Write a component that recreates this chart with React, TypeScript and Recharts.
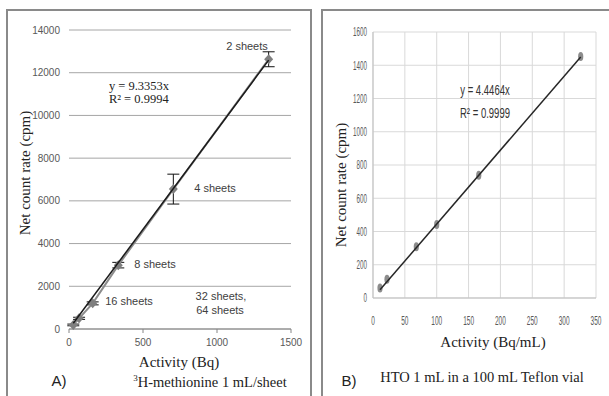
import React from "react";
import { ScatterChart, Scatter, XAxis, YAxis, CartesianGrid, ErrorBar } from "recharts";

// Panel A: 3H-methionine, 1 mL per sheet
const sheetsA = ["64 sheets", "32 sheets", "16 sheets", "8 sheets", "4 sheets", "2 sheets"];
const activityA = [29, 68, 160, 333, 705, 1349];
const countA = [190, 500, 1200, 2990, 6550, 12630];
const errA = [40, 50, 70, 130, 700, 350];
const fitXA = [29, 1349];
const fitYA = [270, 12590];
const xTicksA = [0, 500, 1000, 1500];
const yTicksA = [0, 2000, 4000, 6000, 8000, 10000, 12000, 14000];

// Panel B: HTO in a Teflon vial
const activityB = [11, 22, 68, 100, 166, 326];
const countB = [60, 113, 308, 442, 738, 1452];
const fitXB = [11, 326];
const fitYB = [49, 1450];
const xTicksB = [0, 50, 100, 150, 200, 250, 300, 350];
const yTicksB = [0, 200, 400, 600, 800, 1000, 1200, 1400, 1600];

const pointsA = activityA.map((x, i) => ({ x, y: countA[i], err: errA[i], name: sheetsA[i] }));
const trendA = fitXA.map((x, i) => ({ x, y: fitYA[i] }));
const pointsB = activityB.map((x, i) => ({ x, y: countB[i] }));
const trendB = fitXB.map((x, i) => ({ x, y: fitYB[i] }));

const sans = "'Liberation Sans', Arial, sans-serif";
const serif = "'Liberation Serif', 'Times New Roman', serif";

const Diamond = (p: any) => (
  <path
    d={`M${p.cx},${p.cy - 5}L${p.cx + 4.5},${p.cy}L${p.cx},${p.cy + 5}L${p.cx - 4.5},${p.cy}Z`}
    fill="#7f7f7f"
  />
);
const Oval = (p: any) => <ellipse cx={p.cx} cy={p.cy} rx={2.6} ry={4.5} fill="#8c8c8c" />;
const NoDot = () => <g />;

// Panel B labels are horizontally squeezed in the original
const NarrowTickY = (p: any) => (
  <g transform={`translate(${p.x},${p.y}) scale(0.5,1)`}>
    <text textAnchor="end" dy="0.35em" fontSize={12.5} fontFamily={sans} fill="#595959">
      {p.payload.value}
    </text>
  </g>
);
const NarrowTickX = (p: any) => (
  <g transform={`translate(${p.x},${p.y}) scale(0.5,1)`}>
    <text textAnchor="middle" dy="0.35em" fontSize={13} fontFamily={sans} fill="#595959">
      {p.payload.value}
    </text>
  </g>
);

const txt = (left: number, top: number, style: React.CSSProperties = {}) => ({
  position: "absolute" as const,
  left,
  top,
  transform: "translate(-50%,-50%)",
  whiteSpace: "nowrap" as const,
  lineHeight: 1,
  ...style,
});

export default function App() {
  return (
    <div style={{ position: "fixed", left: 0, top: 0, width: 609, height: 396, overflow: "hidden", background: "#fff" }}>
      {/* panel frames */}
      <div style={{ position: "absolute", left: 6, top: 9, width: 302, height: 400, border: "2px solid #8a8a8a" }} />
      <div style={{ position: "absolute", left: 321, top: 9, width: 300, height: 400, border: "2px solid #8a8a8a" }} />

      <div style={{ position: "absolute", left: 0, top: 0 }}>
        <ScatterChart width={309} height={396} margin={{ top: 30, right: 18, left: 29, bottom: 37 }}>
          <CartesianGrid vertical={false} stroke="#a6a6a6" />
          <XAxis
            type="number"
            dataKey="x"
            domain={[0, 1500]}
            ticks={xTicksA}
            height={30}
            stroke="#868686"
            tickSize={4}
            tickMargin={6}
            tick={{ fontSize: 10, fontFamily: sans, fill: "#595959" }}
          />
          <YAxis
            type="number"
            dataKey="y"
            domain={[0, 14000]}
            ticks={yTicksA}
            width={40}
            axisLine={false}
            tickLine={false}
            tickSize={0}
            tickMargin={9}
            tick={{ fontSize: 10, fontFamily: sans, fill: "#595959" }}
          />
          <Scatter data={pointsA} line={{ stroke: "#8c8c8c", strokeWidth: 2 }} shape={Diamond} isAnimationActive={false}>
            <ErrorBar dataKey="err" direction="y" width={6} stroke="#111" strokeWidth={1} />
          </Scatter>
          <Scatter data={trendA} line={{ stroke: "#1a1a1a", strokeWidth: 1.5 }} shape={NoDot} isAnimationActive={false} />
        </ScatterChart>
      </div>

      <div style={{ position: "absolute", left: 310, top: 0 }}>
        <ScatterChart width={299} height={396} margin={{ top: 32, right: 13, left: 28, bottom: 68 }}>
          <CartesianGrid stroke="#d9d9d9" />
          <XAxis
            type="number"
            dataKey="x"
            domain={[0, 350]}
            ticks={xTicksB}
            height={30}
            stroke="#bfbfbf"
            tickLine={false}
            tickSize={0}
            tickMargin={22}
            tick={NarrowTickX}
          />
          <YAxis
            type="number"
            dataKey="y"
            domain={[0, 1600]}
            ticks={yTicksB}
            width={35}
            stroke="#bfbfbf"
            tickLine={false}
            tickSize={0}
            tickMargin={6}
            tick={NarrowTickY}
          />
          <Scatter data={pointsB} shape={Oval} isAnimationActive={false} />
          <Scatter data={trendB} line={{ stroke: "#262626", strokeWidth: 1.5 }} shape={NoDot} isAnimationActive={false} />
        </ScatterChart>
      </div>

      {/* panel A text */}
      <div style={txt(139, 93, { fontFamily: serif, fontSize: 12.5, color: "#222", transform: "translate(-50%,-50%)", lineHeight: "13px", textAlign: "left" })}>
        y = 9.3353x<br />R² = 0.9994
      </div>
      <div style={txt(247, 46, { fontFamily: sans, fontSize: 11, color: "#404040" })}>{sheetsA[5]}</div>
      <div style={txt(215, 188, { fontFamily: sans, fontSize: 11, color: "#404040" })}>{sheetsA[4]}</div>
      <div style={txt(155, 264, { fontFamily: sans, fontSize: 11, color: "#404040" })}>{sheetsA[3]}</div>
      <div style={txt(129, 301, { fontFamily: sans, fontSize: 11, color: "#404040" })}>{sheetsA[2]}</div>
      <div style={txt(221, 296, { fontFamily: sans, fontSize: 11, color: "#404040" })}>{sheetsA[1]},</div>
      <div style={txt(220, 310, { fontFamily: sans, fontSize: 11, color: "#404040" })}>{sheetsA[0]}</div>
      <div style={txt(25, 173, { fontFamily: serif, fontSize: 15, color: "#222", transform: "translate(-50%,-50%) rotate(-90deg)" })}>
        Net count rate (cpm)
      </div>
      <div style={txt(179, 362, { fontFamily: serif, fontSize: 15, color: "#222" })}>Activity (Bq)</div>
      <div style={txt(59, 380, { fontFamily: sans, fontSize: 15, color: "#222" })}>A)</div>
      <div style={txt(210, 382, { fontFamily: serif, fontSize: 14.5, color: "#222" })}>
        <sup style={{ fontSize: 9 }}>3</sup>H-methionine 1 mL/sheet
      </div>

      {/* panel B text */}
      <div style={txt(485, 90, { fontFamily: sans, fontSize: 14, color: "#333", transform: "translate(-50%,-50%) scaleX(0.68)" })}>
        y = 4.4464x
      </div>
      <div style={txt(485, 113, { fontFamily: sans, fontSize: 14, color: "#333", transform: "translate(-50%,-50%) scaleX(0.68)" })}>
        R² = 0.9999
      </div>
      <div style={txt(341, 185, { fontFamily: serif, fontSize: 15, color: "#222", transform: "translate(-50%,-50%) rotate(-90deg)" })}>
        Net count rate (cpm)
      </div>
      <div style={txt(493, 342, { fontFamily: serif, fontSize: 15, color: "#222" })}>Activity (Bq/mL)</div>
      <div style={txt(349, 380, { fontFamily: sans, fontSize: 15, color: "#222" })}>B)</div>
      <div style={txt(482, 377, { fontFamily: serif, fontSize: 14.5, color: "#222" })}>HTO 1 mL in a 100 mL Teflon vial</div>
    </div>
  );
}
